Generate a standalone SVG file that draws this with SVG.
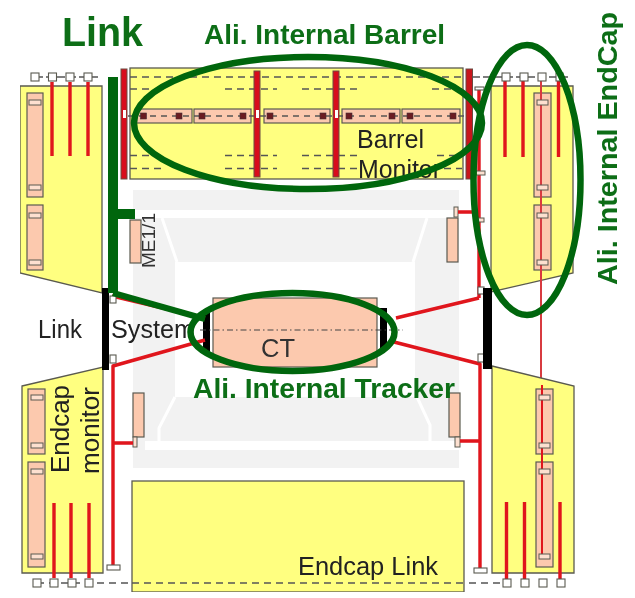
<svg xmlns="http://www.w3.org/2000/svg" width="635" height="598" viewBox="0 0 635 598">
<style>
.y{fill:#ffff80;stroke:#5a5a50;stroke-width:1.3}
.s{fill:#fcc9ae;stroke:#5a5a50;stroke-width:1.2}
.w{fill:#fff;stroke:#5a5a50;stroke-width:1.1}
.p{fill:#fde0d0;stroke:#5a5a50;stroke-width:1}
.bar{fill:#d8101e;stroke:#6a4a40;stroke-width:1}
.k{fill:#000}
.d{fill:#6b1a22;stroke:#40303a;stroke-width:.6}
.r{stroke:#e0141e;stroke-width:3.4;fill:none}
.r2{stroke:#e0141e;stroke-width:2;fill:none}
.rl{stroke:#d83a40;stroke-width:2;fill:none}
.dash{stroke:#555;stroke-width:1.4;stroke-dasharray:7 5;fill:none}
.dd{stroke:#444;stroke-width:1;stroke-dasharray:6 3 1.5 3;fill:none}
.gl{stroke:#00660a;fill:none}
.ring{stroke:#00660a;stroke-width:6.5;fill:none}
.wl{stroke:#fff;stroke-width:3;fill:none}
text{font-family:"Liberation Sans",Arial,sans-serif}
.t{fill:#222;font-size:25px}
.gt{fill:#0a6e18;font-weight:bold;font-size:28px}
</style>
<defs><filter id="b" x="0" y="0" width="100%" height="100%"><feGaussianBlur stdDeviation="0.5"/></filter></defs>
<g filter="url(#b)">
<g id="background">
<rect fill="#f2f2f2" x="133" y="190" width="326" height="278"/>
<rect fill="#fff" x="135" y="210" width="325" height="8"/>
<rect fill="#fff" x="145" y="441" width="315" height="9"/>
<rect fill="#fff" x="175" y="262" width="240" height="135"/>
<path class="wl" d="M162 218L177 262M427 218L413 262M175 397L159 428V441M417 397L430 425V441"/>
</g>
<g id="barrel">
<rect class="y" x="130" y="68" width="333" height="111"/>
<rect class="s" x="136" y="109" width="56" height="14"/>
<rect class="s" x="194" y="109" width="57" height="14"/>
<rect class="s" x="264" y="109" width="66" height="14"/>
<rect class="s" x="342" y="109" width="58" height="14"/>
<rect class="s" x="402" y="109" width="58" height="14"/>
<path class="dash" d="M130 77H462"/>
<path class="dash" d="M130 89H150M225 89H277M302 89H358M432 89H462M130 155.500H150M225 155.500H277M302 155.500H358M437 155.500H462M130 168.500H165M225 168.500H277M302 168.500H358M432 168.500H462"/>
<path class="dash" d="M128 116H465" style="stroke-dasharray:6 5"/>
<rect class="d" x="140.500" y="113" width="6" height="6"/><rect class="d" x="176" y="113" width="6" height="6"/>
<rect class="d" x="199" y="113" width="6" height="6"/><rect class="d" x="240" y="113" width="6" height="6"/>
<rect class="d" x="267" y="113" width="6" height="6"/><rect class="d" x="320" y="113" width="6" height="6"/>
<rect class="d" x="346" y="113" width="6" height="6"/><rect class="d" x="389" y="113" width="6" height="6"/>
<rect class="d" x="407" y="113" width="6" height="6"/><rect class="d" x="450" y="113" width="6" height="6"/>
<rect class="bar" x="121" y="69" width="6" height="110"/>
<rect class="bar" x="254" y="71" width="6" height="106"/>
<rect class="bar" x="333" y="71" width="6" height="106"/>
<rect class="bar" x="466" y="69" width="6.500" height="110" style="fill:#c8141e"/>
<rect x="123" y="110" width="3" height="8" fill="#fff"/><rect x="256" y="110" width="3" height="8" fill="#fff"/><rect x="335" y="110" width="3" height="8" fill="#fff"/>
<text class="t" x="357" y="148" textLength="67" lengthAdjust="spacingAndGlyphs">Barrel</text>
<text class="t" x="358" y="178" textLength="83" lengthAdjust="spacingAndGlyphs">Monitor</text>
</g>
<g id="endcap-upper-left">
<path class="dash" d="M35 77H100" style="stroke-dasharray:8 3"/>
<path class="y" d="M20 86H102V293L20 273Z"/>
<rect class="s" x="27" y="93" width="16" height="104"/>
<rect class="s" x="27" y="205" width="16" height="65"/>
<rect class="p" x="29" y="100" width="12" height="5"/><rect class="p" x="29" y="185" width="12" height="5"/>
<rect class="p" x="29" y="213" width="12" height="5"/><rect class="p" x="29" y="260" width="12" height="5"/>
<path class="r" d="M52 82V156M70 82V156M88 82V156"/>
<rect class="w" x="31" y="73" width="8" height="8"/><rect class="w" x="48.500" y="73" width="8" height="8"/><rect class="w" x="66" y="73" width="8" height="8"/><rect class="w" x="84" y="73" width="8" height="8"/>
</g>
<g id="endcap-upper-right">
<path class="dash" d="M472 77H570" style="stroke-dasharray:8 3"/>
<path class="y" d="M491 86H573V273L491 292Z"/>
<rect class="s" x="534" y="93" width="17" height="104"/>
<rect class="s" x="534" y="205" width="17" height="65"/>
<path class="rl" d="M541 81V548"/>
<rect class="p" x="537" y="100" width="11" height="5"/><rect class="p" x="537" y="185" width="11" height="5"/>
<rect class="p" x="537" y="213" width="11" height="5"/><rect class="p" x="537" y="260" width="11" height="5"/>
<path class="r" d="M505 81V157M523 81V157M558.500 81V157"/>
<rect class="w" x="502" y="73" width="8" height="8"/><rect class="w" x="520" y="73" width="8" height="8"/><rect class="w" x="538" y="73" width="8" height="8"/><rect class="w" x="556" y="73" width="7" height="8"/>
</g>
<g id="endcap-lower-left">
<path class="y" d="M22 386L103 367V573H22Z"/>
<rect class="s" x="28" y="389" width="17" height="65"/>
<rect class="s" x="28" y="462" width="17" height="105"/>
<rect class="p" x="31" y="395" width="12" height="5"/><rect class="p" x="31" y="443" width="12" height="5"/>
<rect class="p" x="31" y="469" width="12" height="5"/><rect class="p" x="31" y="554" width="12" height="5"/>
<path class="r" d="M54 503V578M71 503V578M89 503V578"/>
<path class="dash" d="M37 583H500"/>
<rect class="w" x="33" y="579" width="8" height="8"/><rect class="w" x="50" y="579" width="8" height="8"/><rect class="w" x="68" y="579" width="8" height="8"/><rect class="w" x="85" y="579" width="8" height="8"/>
<text class="t" transform="translate(69 473) rotate(-90)" textLength="88" lengthAdjust="spacingAndGlyphs">Endcap</text>
<text class="t" transform="translate(99 474) rotate(-90)" textLength="87" lengthAdjust="spacingAndGlyphs">monitor</text>
</g>
<g id="endcap-lower-right">
<path class="y" d="M492 366L574 386V573H492Z"/>
<rect class="s" x="536" y="389" width="17" height="65"/>
<rect class="s" x="536" y="462" width="17" height="105"/>
<path class="r2" d="M542 385V555"/>
<rect class="p" x="539" y="395" width="11" height="5"/><rect class="p" x="539" y="443" width="11" height="5"/>
<rect class="p" x="539" y="469" width="11" height="5"/><rect class="p" x="539" y="554" width="11" height="5"/>
<path class="r" d="M506.500 502V580M524.500 502V580M560 502V580"/>
<rect class="w" x="503" y="579" width="8" height="8"/><rect class="w" x="521" y="579" width="8" height="8"/><rect class="w" x="539" y="579" width="8" height="8"/><rect class="w" x="557" y="579" width="8" height="8"/>
</g>
<g id="endcap-link">
<rect class="y" x="132" y="481" width="332" height="111"/>
<path class="dash" d="M132 583H464"/>
<text class="t" x="298" y="575" textLength="140" lengthAdjust="spacingAndGlyphs">Endcap Link</text>
</g>
<g id="me11-chambers">
<rect class="s" x="130" y="220" width="11" height="43"/>
<rect class="s" x="447" y="218" width="11" height="44"/>
<rect class="p" x="454" y="207" width="4" height="10"/>
<rect class="s" x="133" y="393" width="11" height="44"/>
<rect class="p" x="133" y="437" width="4" height="10"/>
<rect class="s" x="449" y="393" width="11" height="44"/>
<rect class="p" x="455" y="437" width="5" height="10"/>
<text transform="translate(155 268) rotate(-90)" fill="#333" font-size="19" textLength="55" lengthAdjust="spacingAndGlyphs">ME1/1</text>
</g>
<g id="tracker">
<rect class="s" x="213" y="298" width="164" height="69"/>
<rect class="k" x="203" y="312" width="7" height="41"/>
<rect class="k" x="380" y="308" width="7" height="42"/>
<path class="dd" d="M200 330H403"/>
<text class="t" x="261" y="357" textLength="34" lengthAdjust="spacingAndGlyphs" style="fill:#333">CT</text>
</g>
<g id="connectors">
<path class="r" d="M479 90V298M458 212H479"/>
<path class="r" d="M396 318L479 298"/>
<path class="r" stroke-linejoin="round" d="M394 342L480 364V570M460 441H480"/>
<path class="r" stroke-linejoin="round" d="M205 340L113 366V568M113 443H133"/>
<path class="r" d="M112 296L205 318"/>
<rect class="w" x="475" y="87" width="9" height="3"/>
<rect class="p" x="476" y="171" width="9" height="4"/>
<rect class="p" x="477" y="218" width="7" height="4"/>
<rect class="w" x="478" y="354" width="6" height="8"/>
<rect class="w" x="474" y="568" width="13" height="5"/>
<rect class="w" x="110" y="355" width="6" height="8"/>
<rect class="w" x="107" y="565" width="13" height="5"/>
<rect class="w" x="478" y="287" width="6" height="7"/>
<rect class="w" x="110" y="296" width="6" height="7"/>
<rect class="k" x="102" y="288" width="7" height="82"/>
<rect class="k" x="483" y="288" width="9" height="81"/>
<path class="gl" stroke-width="10" d="M113 77V293"/>
<path class="gl" stroke-width="10" d="M118 214H135"/>
<path class="gl" stroke-width="6" d="M113 293L205 319"/>
</g>
<g id="labels">
<text class="t" x="38" y="338" textLength="44" lengthAdjust="spacingAndGlyphs">Link</text>
<text class="t" x="111" y="338" textLength="84" lengthAdjust="spacingAndGlyphs">System</text>
<text class="gt" x="62" y="46" style="font-size:41px" textLength="81" lengthAdjust="spacingAndGlyphs">Link</text>
<text class="gt" x="204" y="44" textLength="241" lengthAdjust="spacingAndGlyphs">Ali. Internal Barrel</text>
<text class="gt" x="193" y="398" textLength="262" lengthAdjust="spacingAndGlyphs">Ali. Internal Tracker</text>
<text class="gt" transform="translate(617 285) rotate(-90)" textLength="273" lengthAdjust="spacingAndGlyphs">Ali. Internal EndCap</text>
</g>
<g id="alignment-rings">
<ellipse class="ring" cx="308" cy="123" rx="174" ry="66"/>
<ellipse class="ring" cx="527" cy="180" rx="53.500" ry="135"/>
<ellipse class="ring" cx="292.500" cy="332" rx="102" ry="39"/>
</g>
</g>
</svg>
